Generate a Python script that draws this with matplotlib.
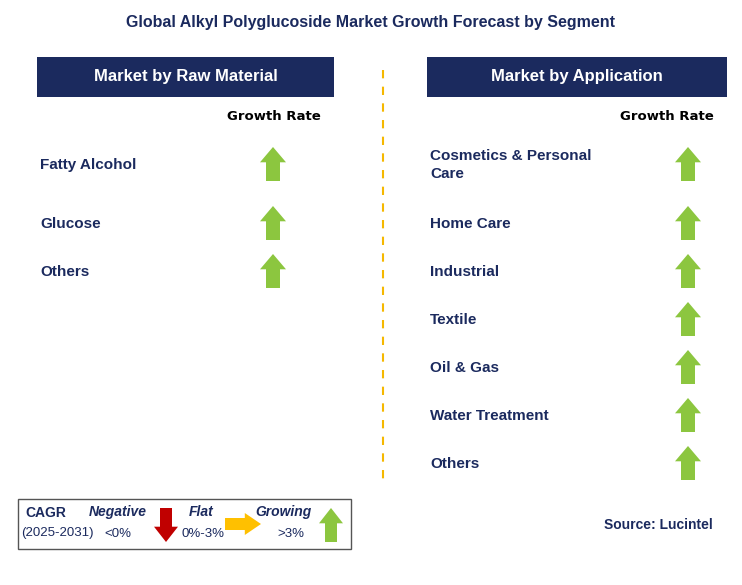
import matplotlib
matplotlib.use("Agg")
import matplotlib.pyplot as plt
from matplotlib.patches import Rectangle, FancyArrow

plt.rcParams["font.family"] = "Liberation Sans"

raw_materials = ["Fatty Alcohol", "Glucose", "Others"]
raw_growth = ["up", "up", "up"]
applications = ["Cosmetics & Personal\nCare", "Home Care", "Industrial", "Textile",
                "Oil & Gas", "Water Treatment", "Others"]
app_growth = ["up"] * 7

NAVY = "#1b2a5e"
GREEN = "#8cc63f"
RED = "#c00000"
AMBER = "#ffc000"

fig = plt.figure(figsize=(7.42, 5.85), dpi=100)
ax = fig.add_axes([0, 0, 1, 1])
ax.set_xlim(0, 742)
ax.set_ylim(585, 0)
ax.axis("off")


def arrow(x, y, kind, h=34, w=26, stem=14):
    if kind == "up":
        ax.add_patch(FancyArrow(x, y + h / 2, 0, -h, width=stem, head_width=w,
                                head_length=h * 0.45, length_includes_head=True,
                                color=GREEN, lw=0))
    elif kind == "down":
        ax.add_patch(FancyArrow(x, y - h / 2, 0, h, width=stem, head_width=w,
                                head_length=h * 0.45, length_includes_head=True,
                                color=RED, lw=0))
    else:
        ax.add_patch(FancyArrow(x - h / 2, y, h, 0, width=stem, head_width=w,
                                head_length=h * 0.45, length_includes_head=True,
                                color=AMBER, lw=0))


ax.text(371, 22, "Global Alkyl Polyglucoside Market Growth Forecast by Segment",
        ha="center", va="center", fontsize=11.5, fontweight="bold", color=NAVY)

for x0, x1, title in [(37, 334, "Market by Raw Material"), (427, 727, "Market by Application")]:
    ax.add_patch(Rectangle((x0, 57), x1 - x0, 40, color=NAVY, lw=0))
    ax.text((x0 + x1) / 2, 77, title, ha="center", va="center", fontsize=12,
            fontweight="bold", color="white")
    ax.text(x1 - 60, 116, "Growth Rate", ha="center", va="center", fontsize=9.5,
            fontweight="bold", color="black", family="DejaVu Sans")

ax.plot([383, 383], [70, 485], ls=(0, (4, 4)), color="#f5b800", lw=1.5)

ys_left = [165 + 59 * min(i, 1) + 48 * max(i - 1, 0) for i in range(len(raw_materials))]
for y, name, g in zip(ys_left, raw_materials, raw_growth):
    ax.text(40, y, name, ha="left", va="center", fontsize=11, fontweight="bold", color=NAVY)
    arrow(273, y - 1, g)

ys_right = [165 + 59 * min(i, 1) + 48 * max(i - 1, 0) for i in range(len(applications))]
for y, name, g in zip(ys_right, applications, app_growth):
    ax.text(430, y, name, ha="left", va="center", fontsize=11, fontweight="bold",
            color=NAVY, linespacing=1.45)
    arrow(688, y - 1, g)

# legend box
ax.add_patch(Rectangle((18, 499), 333, 50, fill=False, ec="#555555", lw=1))
ax.text(25, 513, "CAGR", fontsize=10, fontweight="bold", color=NAVY, va="center")
ax.text(21, 533, "(2025-2031)", fontsize=9.5, color=NAVY, va="center")
ax.text(118, 512, "Negative", fontsize=10, fontweight="bold", style="italic", color=NAVY, ha="center", va="center")
ax.text(118, 534, "<0%", fontsize=9.5, color=NAVY, ha="center", va="center")
arrow(166, 525, "down", h=34, w=24, stem=12)
ax.text(201, 512, "Flat", fontsize=10, fontweight="bold", style="italic", color=NAVY, ha="center", va="center")
ax.text(203, 534, "0%-3%", fontsize=9.5, color=NAVY, ha="center", va="center")
arrow(243, 524, "flat", h=36, w=22, stem=12)
ax.text(283, 512, "Growing", fontsize=10, fontweight="bold", style="italic", color=NAVY, ha="center", va="center")
ax.text(291, 534, ">3%", fontsize=9.5, color=NAVY, ha="center", va="center")
arrow(331, 525, "up", h=34, w=24, stem=12)

ax.text(713, 525, "Source: Lucintel", ha="right", va="center", fontsize=10,
        fontweight="bold", color=NAVY)

fig.savefig("out.png", dpi=100)
